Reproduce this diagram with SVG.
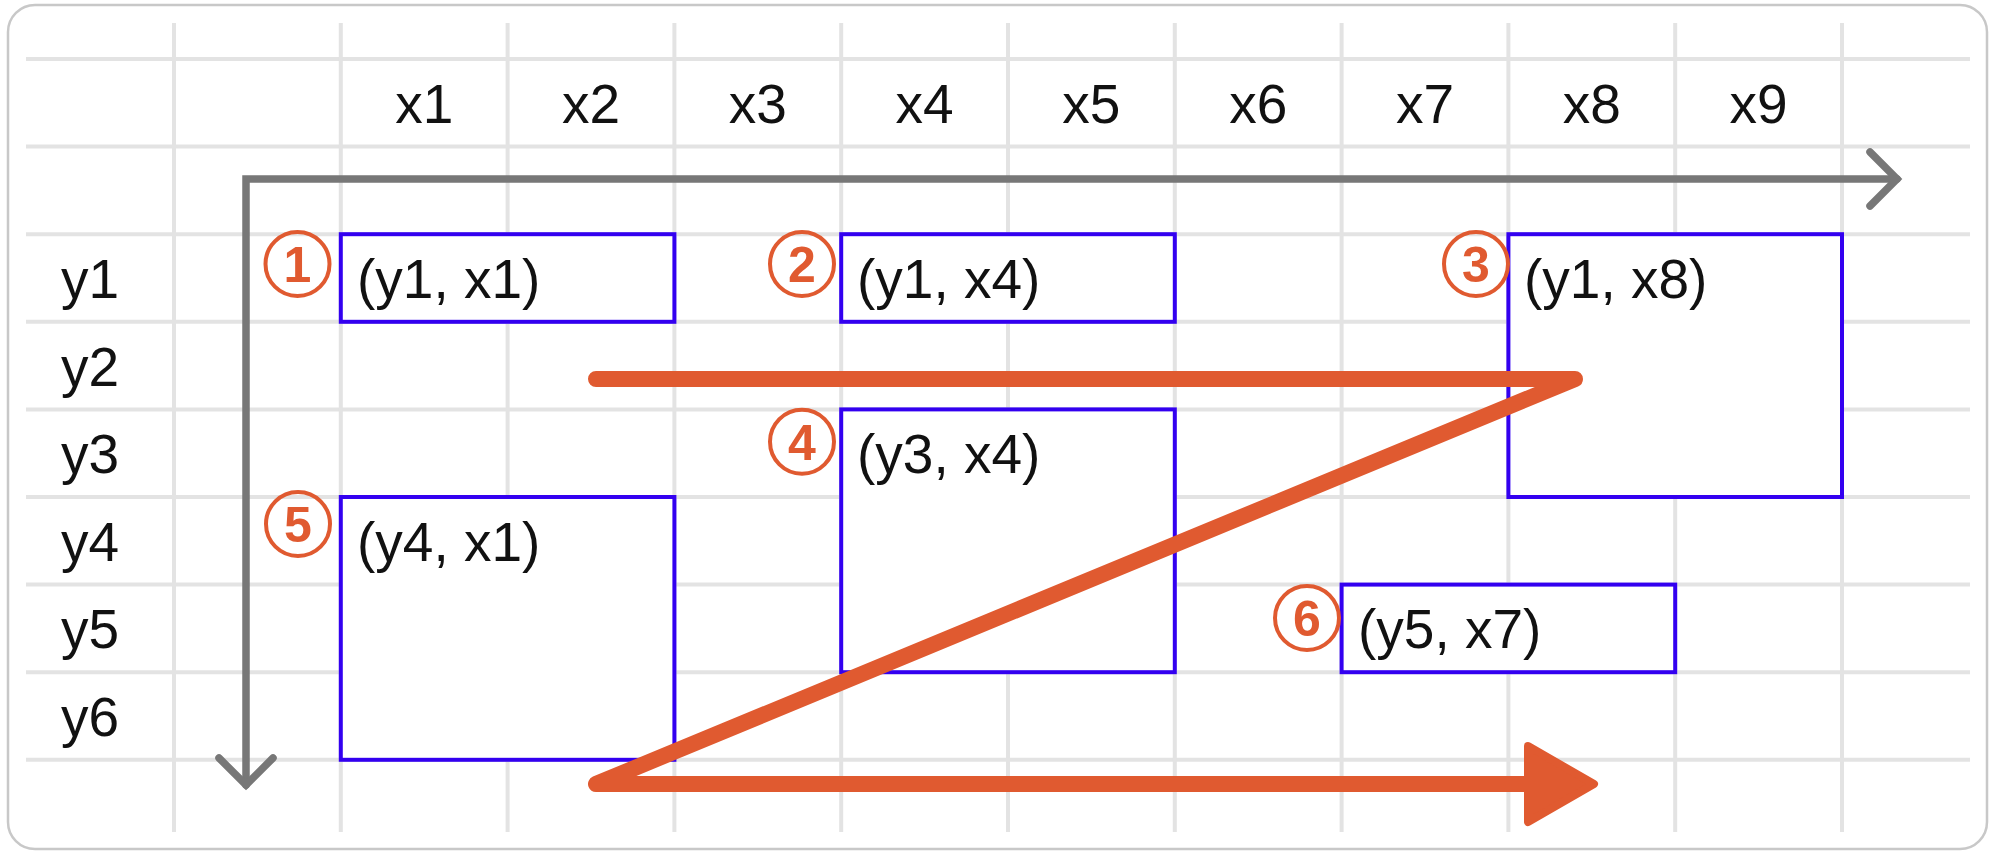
<svg xmlns="http://www.w3.org/2000/svg" width="1994" height="852" viewBox="0 0 1994 852">
<style>
.grid line{stroke:#e3e3e3;stroke-width:4}
.lbl{font-family:"Liberation Sans",Arial,sans-serif;font-size:55px;fill:#111}
.box rect{fill:#fff;stroke:#3300f0;stroke-width:4}
.num circle{fill:none;stroke:#e05a30;stroke-width:4}
.num text{font-family:"Liberation Sans",Arial,sans-serif;font-size:50px;font-weight:bold;fill:#e05a30;text-anchor:middle}
.axis{fill:none;stroke:#777;stroke-width:7.5;stroke-linecap:round;stroke-linejoin:miter}
.path{fill:none;stroke:#e05a30;stroke-width:16;stroke-linecap:round;stroke-linejoin:round}
</style>
<rect x="8" y="5" width="1979" height="844" rx="27" fill="#fff" stroke="#c8c8c8" stroke-width="2.5"/>
<g class="grid">
<line x1="26" y1="59" x2="1970" y2="59"/>
<line x1="26" y1="146.6" x2="1970" y2="146.6"/>
<line x1="26" y1="234.2" x2="1970" y2="234.2"/>
<line x1="26" y1="321.8" x2="1970" y2="321.8"/>
<line x1="26" y1="409.4" x2="1970" y2="409.4"/>
<line x1="26" y1="497" x2="1970" y2="497"/>
<line x1="26" y1="584.6" x2="1970" y2="584.6"/>
<line x1="26" y1="672.2" x2="1970" y2="672.2"/>
<line x1="26" y1="759.8" x2="1970" y2="759.8"/>
<line x1="174" y1="23" x2="174" y2="832"/>
<line x1="340.8" y1="23" x2="340.8" y2="832"/>
<line x1="507.6" y1="23" x2="507.6" y2="832"/>
<line x1="674.4" y1="23" x2="674.4" y2="832"/>
<line x1="841.2" y1="23" x2="841.2" y2="832"/>
<line x1="1008" y1="23" x2="1008" y2="832"/>
<line x1="1174.8" y1="23" x2="1174.8" y2="832"/>
<line x1="1341.6" y1="23" x2="1341.6" y2="832"/>
<line x1="1508.4" y1="23" x2="1508.4" y2="832"/>
<line x1="1675.2" y1="23" x2="1675.2" y2="832"/>
<line x1="1842" y1="23" x2="1842" y2="832"/>
</g>
<g id="col-labels" class="lbl" text-anchor="middle">
<text x="424.2" y="123">x1</text>
<text x="591" y="123">x2</text>
<text x="757.8" y="123">x3</text>
<text x="924.6" y="123">x4</text>
<text x="1091.4" y="123">x5</text>
<text x="1258.2" y="123">x6</text>
<text x="1425" y="123">x7</text>
<text x="1591.8" y="123">x8</text>
<text x="1758.6" y="123">x9</text>
</g>
<g id="row-labels" class="lbl">
<text x="61" y="298">y1</text>
<text x="61" y="385.6">y2</text>
<text x="61" y="473.2">y3</text>
<text x="61" y="560.8">y4</text>
<text x="61" y="648.4">y5</text>
<text x="61" y="736">y6</text>
</g>
<g id="axes">
<path class="axis" d="M246,785 L246,179 L1897,179"/>
<path class="axis" d="M1870,152 L1897,179 L1870,206"/>
<path class="axis" d="M219,758 L246,785 L273,758"/>
</g>
<g id="box-y1x1" class="box">
<rect x="340.8" y="234.2" width="333.6" height="87.6"/>
<text class="lbl" x="357" y="298">(y1, x1)</text>
</g>
<g id="box-y1x4" class="box">
<rect x="841.2" y="234.2" width="333.6" height="87.6"/>
<text class="lbl" x="857" y="298">(y1, x4)</text>
</g>
<g id="box-y1x8" class="box">
<rect x="1508.4" y="234.2" width="333.6" height="262.8"/>
<text class="lbl" x="1524" y="298">(y1, x8)</text>
</g>
<g id="box-y3x4" class="box">
<rect x="841.2" y="409.4" width="333.6" height="262.8"/>
<text class="lbl" x="857" y="473.2">(y3, x4)</text>
</g>
<g id="box-y4x1" class="box">
<rect x="340.8" y="497" width="333.6" height="262.8"/>
<text class="lbl" x="357" y="560.8">(y4, x1)</text>
</g>
<g id="box-y5x7" class="box">
<rect x="1341.6" y="584.6" width="333.6" height="87.6"/>
<text class="lbl" x="1358" y="648.4">(y5, x7)</text>
</g>
<g id="connectors">
<path class="path" d="M596,379 L1575,379 L596,784 L1530,784"/>
<polygon points="1528,746 1594,784 1528,822" fill="#e05a30" stroke="#e05a30" stroke-width="8" stroke-linejoin="round"/>
</g>
<g id="n1" class="num"><circle cx="297.5" cy="264" r="32"/><text x="297.5" y="282">1</text></g>
<g id="n2" class="num"><circle cx="802" cy="264" r="32"/><text x="802" y="282">2</text></g>
<g id="n3" class="num"><circle cx="1476" cy="264" r="32"/><text x="1476" y="282">3</text></g>
<g id="n4" class="num"><circle cx="802" cy="441.7" r="32"/><text x="802" y="459.7">4</text></g>
<g id="n5" class="num"><circle cx="298" cy="524" r="32"/><text x="298" y="542">5</text></g>
<g id="n6" class="num"><circle cx="1307" cy="618" r="32"/><text x="1307" y="636">6</text></g>
</svg>
